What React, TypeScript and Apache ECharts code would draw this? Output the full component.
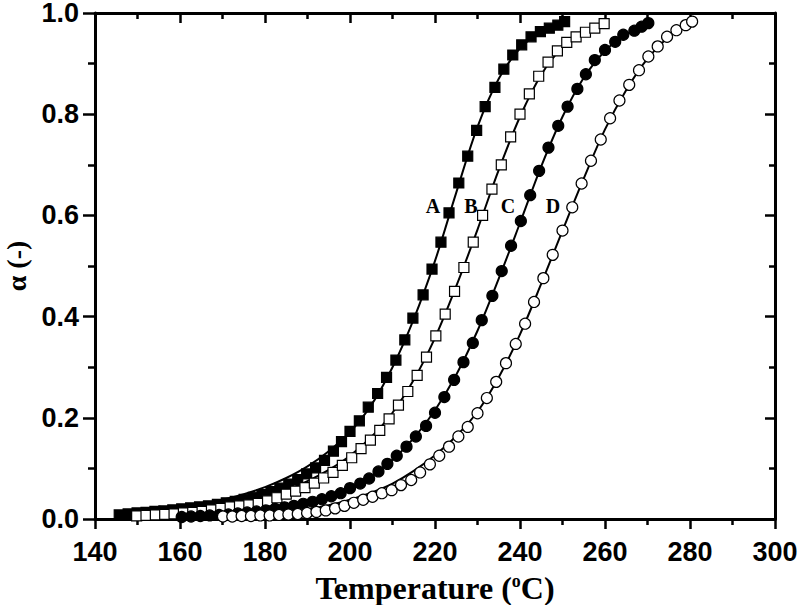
import React, { useEffect, useRef } from "react";
import * as echarts from "echarts";

// ---- Data ----
const xTicks = [140, 160, 180, 200, 220, 240, 260, 280, 300];
const yTicks = ["0.0", "0.2", "0.4", "0.6", "0.8", "1.0"];
const curveLabels = ["A", "B", "C", "D"];

// A: filled squares
const aTemp = [145.7, 147.8, 149.9, 152.0, 154.1, 156.2, 158.3, 160.4, 162.5, 164.6, 166.7, 168.8, 170.9, 173.0, 175.1, 177.2, 179.3, 181.4, 183.5, 185.6, 187.7, 189.8, 191.9, 194.0, 196.1, 198.0, 200.0, 202.2, 204.3, 206.5, 208.6, 210.8, 212.9, 214.8, 217.2, 219.3, 221.4, 223.3, 225.6, 227.7, 229.8, 231.8, 234.1, 236.2, 238.3, 240.4, 242.6, 244.8, 246.9, 248.9, 250.5];
const aAlpha = [0.008, 0.010, 0.012, 0.013, 0.015, 0.016, 0.018, 0.020, 0.022, 0.024, 0.026, 0.029, 0.032, 0.035, 0.039, 0.043, 0.048, 0.054, 0.061, 0.069, 0.078, 0.089, 0.101, 0.116, 0.134, 0.153, 0.173, 0.194, 0.221, 0.248, 0.280, 0.314, 0.354, 0.397, 0.443, 0.494, 0.547, 0.605, 0.664, 0.717, 0.768, 0.815, 0.853, 0.889, 0.917, 0.937, 0.953, 0.963, 0.970, 0.976, 0.983];
const aFitTemp = [145, 150, 155, 160, 165, 170, 175, 180, 185, 190, 195, 200, 205, 210, 215, 220, 225, 230, 235, 240, 245, 250];
const aFitAlpha = [0.012, 0.015, 0.019, 0.024, 0.030, 0.038, 0.049, 0.063, 0.081, 0.104, 0.134, 0.172, 0.225, 0.300, 0.395, 0.510, 0.645, 0.775, 0.870, 0.930, 0.963, 0.980];

// B: open squares
const bTemp = [149.8, 152.0, 154.2, 156.4, 158.6, 160.8, 163.0, 165.2, 167.4, 169.6, 171.8, 174.0, 176.2, 178.4, 180.6, 182.8, 185.0, 187.2, 189.4, 191.6, 193.8, 196.0, 198.2, 200.4, 202.6, 204.8, 207.0, 209.2, 211.4, 213.6, 215.8, 218.0, 220.2, 222.4, 224.6, 226.8, 229.0, 231.2, 233.4, 235.6, 237.8, 240.0, 242.2, 244.4, 246.6, 248.8, 251.0, 253.2, 255.4, 257.6, 259.8];
const bAlpha = [0.006, 0.007, 0.008, 0.009, 0.010, 0.012, 0.013, 0.015, 0.018, 0.021, 0.024, 0.026, 0.028, 0.031, 0.036, 0.042, 0.049, 0.055, 0.062, 0.071, 0.081, 0.092, 0.106, 0.121, 0.139, 0.156, 0.175, 0.198, 0.225, 0.252, 0.284, 0.320, 0.362, 0.405, 0.450, 0.497, 0.547, 0.600, 0.652, 0.700, 0.755, 0.800, 0.840, 0.875, 0.903, 0.925, 0.942, 0.953, 0.962, 0.970, 0.979];
const bFitTemp = [148, 155, 160, 165, 170, 175, 180, 185, 190, 195, 200, 205, 210, 215, 220, 225, 230, 235, 240, 245, 250, 255, 260];
const bFitAlpha = [0.008, 0.012, 0.016, 0.021, 0.027, 0.035, 0.045, 0.058, 0.075, 0.097, 0.125, 0.162, 0.210, 0.275, 0.358, 0.460, 0.572, 0.690, 0.795, 0.878, 0.932, 0.962, 0.978];

// C: filled circles
const cTemp = [160.4, 162.6, 164.8, 167.0, 169.2, 171.4, 173.6, 175.8, 178.0, 180.2, 182.4, 184.6, 186.8, 189.0, 191.2, 193.4, 195.6, 197.8, 200.0, 202.4, 204.5, 206.7, 208.8, 211.0, 213.3, 215.5, 217.9, 220.0, 222.2, 224.5, 226.7, 228.9, 231.0, 233.5, 235.7, 237.9, 240.2, 242.4, 244.5, 246.7, 249.0, 251.2, 253.5, 255.5, 257.6, 260.0, 262.4, 264.3, 266.9, 268.6, 270.2];
const cAlpha = [0.004, 0.005, 0.006, 0.007, 0.008, 0.009, 0.011, 0.013, 0.015, 0.017, 0.020, 0.023, 0.026, 0.030, 0.034, 0.039, 0.045, 0.051, 0.061, 0.070, 0.080, 0.094, 0.109, 0.125, 0.143, 0.163, 0.184, 0.210, 0.241, 0.275, 0.310, 0.348, 0.393, 0.441, 0.490, 0.540, 0.589, 0.640, 0.688, 0.734, 0.777, 0.815, 0.850, 0.879, 0.907, 0.927, 0.943, 0.957, 0.965, 0.973, 0.980];
const cFitTemp = [158, 165, 170, 175, 180, 185, 190, 195, 200, 205, 210, 215, 220, 225, 230, 235, 240, 245, 250, 255, 260, 265, 270];
const cFitAlpha = [0.003, 0.006, 0.009, 0.013, 0.018, 0.025, 0.034, 0.046, 0.062, 0.084, 0.117, 0.160, 0.215, 0.285, 0.372, 0.475, 0.585, 0.697, 0.795, 0.872, 0.925, 0.958, 0.978];

// D: open circles
const dTemp = [170.1, 172.3, 174.5, 176.7, 178.9, 181.1, 183.3, 185.5, 187.7, 189.9, 192.1, 194.3, 196.5, 198.7, 200.9, 203.1, 205.3, 207.5, 209.8, 212.0, 214.4, 216.5, 218.8, 221.0, 223.3, 225.5, 227.7, 230.0, 232.2, 234.4, 236.7, 239.0, 241.2, 243.3, 245.5, 247.7, 250.0, 252.3, 254.5, 256.7, 259.0, 261.2, 263.4, 265.7, 268.0, 270.2, 272.4, 274.6, 276.8, 279.0, 280.5];
const dAlpha = [0.005, 0.005, 0.006, 0.006, 0.007, 0.007, 0.008, 0.009, 0.010, 0.012, 0.014, 0.017, 0.021, 0.026, 0.032, 0.038, 0.044, 0.051, 0.057, 0.067, 0.077, 0.092, 0.108, 0.125, 0.143, 0.163, 0.182, 0.209, 0.239, 0.271, 0.308, 0.346, 0.386, 0.429, 0.476, 0.522, 0.570, 0.616, 0.663, 0.708, 0.750, 0.792, 0.827, 0.858, 0.887, 0.914, 0.934, 0.953, 0.966, 0.976, 0.983];
const dFitTemp = [168, 175, 180, 185, 190, 195, 200, 205, 210, 215, 220, 225, 230, 235, 240, 245, 250, 255, 260, 265, 270, 275, 280];
const dFitAlpha = [0.004, 0.006, 0.009, 0.013, 0.019, 0.027, 0.038, 0.052, 0.070, 0.095, 0.126, 0.164, 0.212, 0.280, 0.365, 0.465, 0.570, 0.673, 0.770, 0.848, 0.910, 0.953, 0.980];

const zip = (xs: number[], ys: number[]) => xs.map((x, i) => [x, ys[i]]);

const SANS = "'Liberation Sans', Arial, sans-serif";
const SERIF = "'Liberation Serif', 'Times New Roman', serif";

export default function App() {
  const ref = useRef<HTMLDivElement>(null);
  useEffect(() => {
    const chart = echarts.init(ref.current!, null, { renderer: "svg" });
    const axisLine = { show: true, onZero: false, lineStyle: { color: "#000", width: 3 } };
    const tickStyle = { color: "#000", width: 2.5 };
    const labelStyle = { fontSize: 27, fontWeight: "bold", fontFamily: SANS, color: "#000" };

    const fits = [
      zip(aFitTemp, aFitAlpha),
      zip(bFitTemp, bFitAlpha),
      zip(cFitTemp, cFitAlpha),
      zip(dFitTemp, dFitAlpha),
    ];
    const pts = [
      { data: zip(aTemp, aAlpha), symbol: "rect", size: 10, fill: "#000" },
      { data: zip(bTemp, bAlpha), symbol: "rect", size: 10, fill: "#fff" },
      { data: zip(cTemp, cAlpha), symbol: "circle", size: 11, fill: "#000" },
      { data: zip(dTemp, dAlpha), symbol: "circle", size: 11, fill: "#fff" },
    ];
    const series: any[] = [];
    fits.forEach((d, i) => {
      series.push({
        type: "line",
        name: curveLabels[i] + " fit",
        data: d,
        smooth: 0.35,
        showSymbol: false,
        lineStyle: { color: "#000", width: 2 },
        z: 2,
        silent: true,
      });
    });
    pts.forEach((p, i) => {
      series.push({
        type: "scatter",
        name: curveLabels[i],
        data: p.data,
        symbol: p.symbol,
        symbolSize: p.size,
        itemStyle: { color: p.fill, borderColor: "#000", borderWidth: 1.2, opacity: 1 },
        z: 3 + i,
      });
    });

    const labelPos = [
      [433, 206],
      [471, 206],
      [508, 206],
      [553, 206],
    ];

    chart.setOption({
      animation: false,
      backgroundColor: "#fff",
      grid: { left: 95, right: 24, top: 13, bottom: 86, containLabel: false, outerBoundsMode: "none" },
      xAxis: [
        {
          type: "value",
          position: "bottom",
          min: 140,
          max: 300,
          interval: 20,
          axisLine,
          axisTick: { show: true, length: 10, lineStyle: tickStyle },
          minorTick: { show: true, splitNumber: 2, length: 6, lineStyle: tickStyle },
          splitLine: { show: false },
          axisLabel: { ...labelStyle, margin: 19, formatter: (v: number) => (xTicks.includes(v) ? String(v) : "") },
          name: "{a|Temperature (}{s|o}{a|C)}",
          nameLocation: "middle",
          nameGap: 53,
          nameTextStyle: {
            rich: {
              a: { fontSize: 32, fontWeight: "bold", fontFamily: SERIF, color: "#000" },
              s: { fontSize: 18, fontWeight: "bold", fontFamily: SERIF, color: "#000", verticalAlign: "top" },
            },
          },
        },
        {
          type: "value",
          position: "top",
          min: 140,
          max: 300,
          interval: 20,
          axisLine,
          axisTick: { show: true, inside: true, length: 10, lineStyle: tickStyle },
          minorTick: { show: true, splitNumber: 2, length: 6, lineStyle: tickStyle },
          splitLine: { show: false },
          axisLabel: { show: false },
        },
      ],
      yAxis: [
        {
          type: "value",
          position: "left",
          min: 0,
          max: 1,
          interval: 0.2,
          axisLine,
          axisTick: { show: true, length: 12, lineStyle: tickStyle },
          minorTick: { show: true, splitNumber: 2, length: 7, lineStyle: tickStyle },
          splitLine: { show: false },
          axisLabel: {
            ...labelStyle,
            lineHeight: 22,
            margin: 16,
            formatter: (v: number) => yTicks[Math.round(v / 0.2)] ?? "",
          },
          name: "α (-)",
          nameLocation: "middle",
          nameGap: 66,
          nameRotate: 90,
          nameTextStyle: { fontSize: 28, fontWeight: "bold", fontFamily: SERIF, color: "#000", lineHeight: 26 },
        },
        {
          type: "value",
          position: "right",
          min: 0,
          max: 1,
          interval: 0.2,
          axisLine,
          axisTick: { show: true, inside: true, length: 10, lineStyle: tickStyle },
          minorTick: { show: true, splitNumber: 2, length: 6, lineStyle: tickStyle },
          splitLine: { show: false },
          axisLabel: { show: false },
        },
      ],
      graphic: curveLabels.map((t, i) => ({
        type: "text",
        x: labelPos[i][0],
        y: labelPos[i][1],
        z: 100,
        style: {
          text: t,
          fontSize: 20,
          fontWeight: "bold",
          fontFamily: SERIF,
          fill: "#000",
          align: "center",
          verticalAlign: "middle",
        },
      })),
      series,
    });
    return () => chart.dispose();
  }, []);
  return (
    <div
      ref={ref}
      style={{ position: "absolute", left: 0, top: 0, width: 799, height: 605, background: "#fff" }}
    />
  );
}
